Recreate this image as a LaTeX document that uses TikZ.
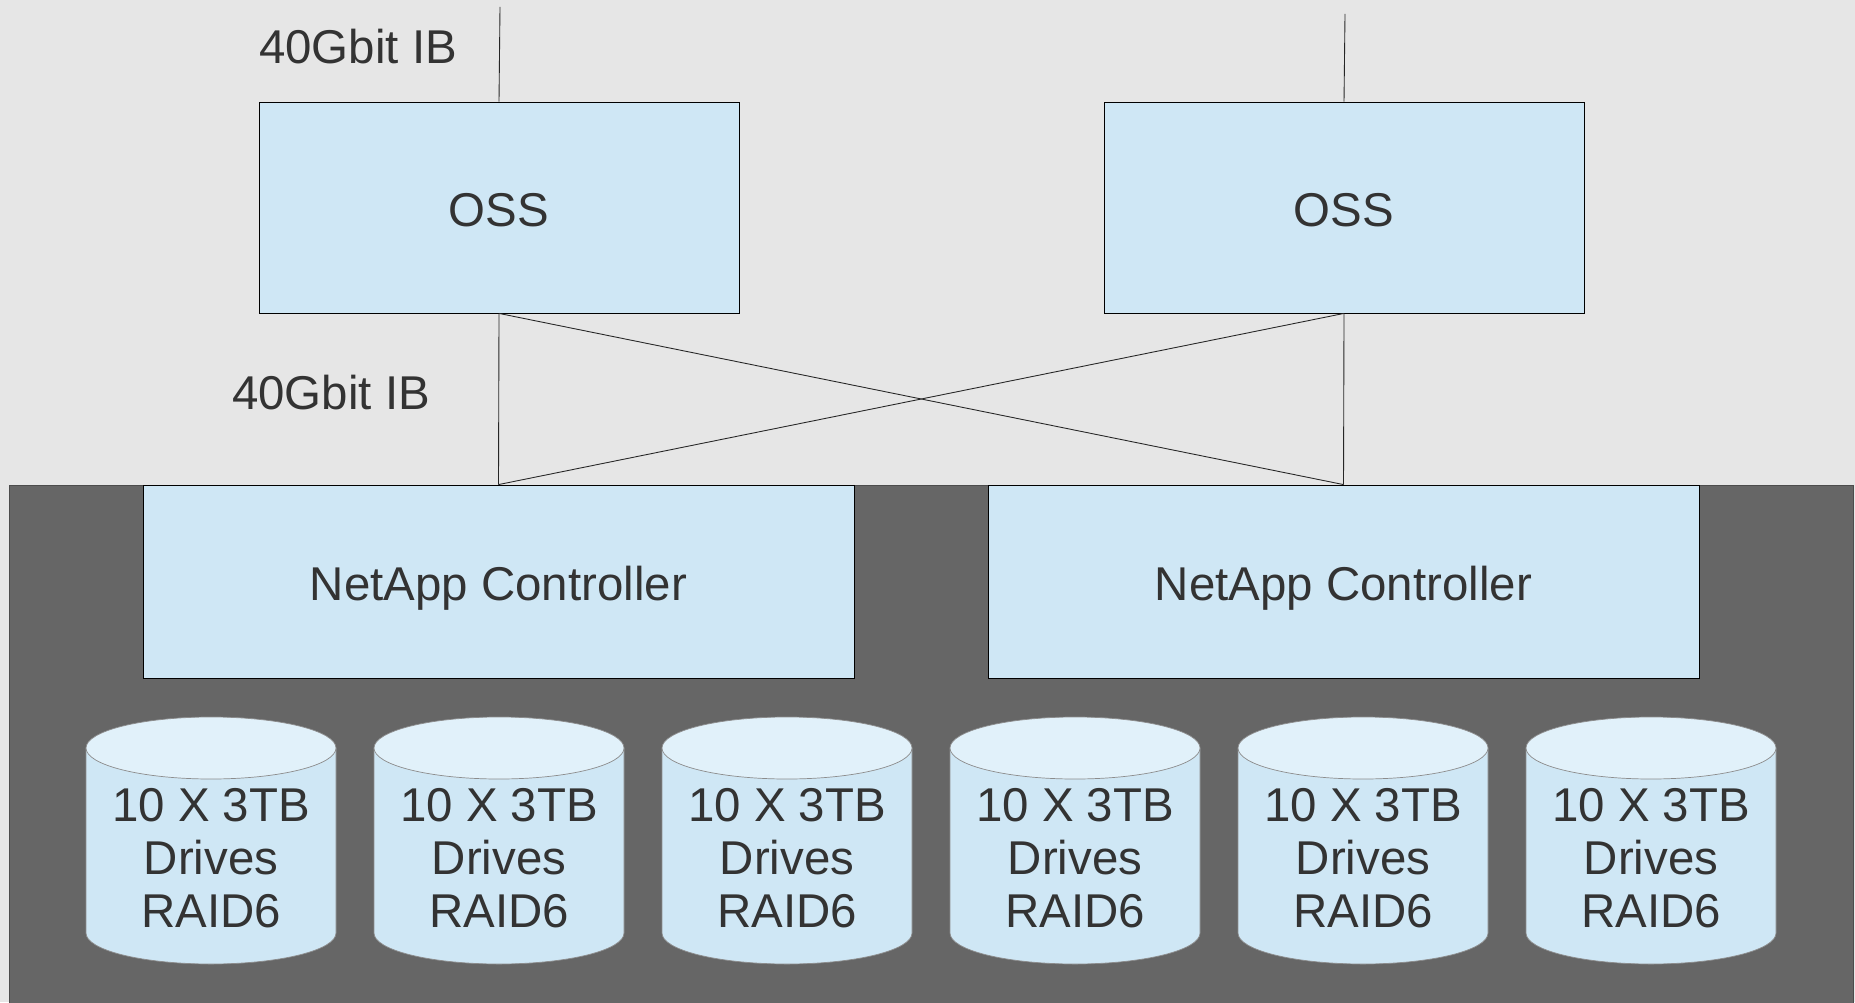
\documentclass[tikz,border=0pt]{standalone}
\usepackage{fontspec}
\setmainfont{Liberation Sans}
\definecolor{bggray}{HTML}{E6E6E6}
\definecolor{rackgray}{HTML}{666666}
\definecolor{boxblue}{HTML}{CFE7F5}
\definecolor{capblue}{HTML}{E1F1FA}
\definecolor{txtgray}{HTML}{333333}

\begin{document}
\begin{tikzpicture}[x=0.02cm,y=0.02cm,
  box/.style={draw=black, fill=boxblue, line width=0.5pt, inner sep=0pt, text height=21.5pt, text depth=0pt, text=txtgray, font=\fontsize{27}{30}\selectfont},
  lbl/.style={text=txtgray, inner sep=0pt, font=\fontsize{27}{30}\selectfont},
  drive/.style={text=txtgray, inner sep=0pt, align=center, font=\fontsize{27}{30.3}\selectfont},
  link/.style={draw=black!85, line width=0.5pt}]

\useasboundingbox (0,0) rectangle (1855,1002);
\fill[bggray] (0,0) rectangle (1855,1002);
\filldraw[fill=rackgray, draw=black!70, line width=0.5pt] (9,-5) rectangle (1853,517);

\node[box, minimum width=9.6cm, minimum height=4.22cm] (oss1) at (499,794.5) {OSS};
\node[box, minimum width=9.6cm, minimum height=4.22cm] (oss2) at (1344,794.5) {OSS};

\node[box, minimum width=14.22cm, minimum height=3.86cm] (ctrl1) at (498.5,420.5) {NetApp Controller};
\node[box, minimum width=14.22cm, minimum height=3.86cm] (ctrl2) at (1343.5,420.5) {NetApp Controller};

\node[lbl] (ib1) at (358,955) {40Gbit IB};
\node[lbl] (ib2) at (331,609) {40Gbit IB};

\coordinate (up1) at (500,995);
\coordinate (up2) at (1345,988);
\draw[link] (oss1.north) -- (up1);
\draw[link] (oss2.north) -- (up2);

\draw[link] (oss1.south) -- (ctrl1.north);
\draw[link] (oss1.south) -- (ctrl2.north);
\draw[link] (oss2.south) -- (ctrl1.north);
\draw[link] (oss2.south) -- (ctrl2.north);

% raid groups
\foreach \i in {0,...,5} {
  \pgfmathsetmacro{\cx}{211+288*\i}
  \filldraw[draw=black!45, fill=boxblue, line width=0.4pt] (\cx-125,254) -- (\cx-125,69)
    arc[start angle=180, end angle=360, x radius=125, y radius=31] -- (\cx+125,254) -- cycle;
  \filldraw[draw=black!45, fill=capblue, line width=0.4pt] (\cx,254) ellipse[x radius=125, y radius=31];
  \node[drive] (raid\i) at (\cx,144) {10 X 3TB\\Drives\\RAID6};
}

\end{tikzpicture}
\end{document}
